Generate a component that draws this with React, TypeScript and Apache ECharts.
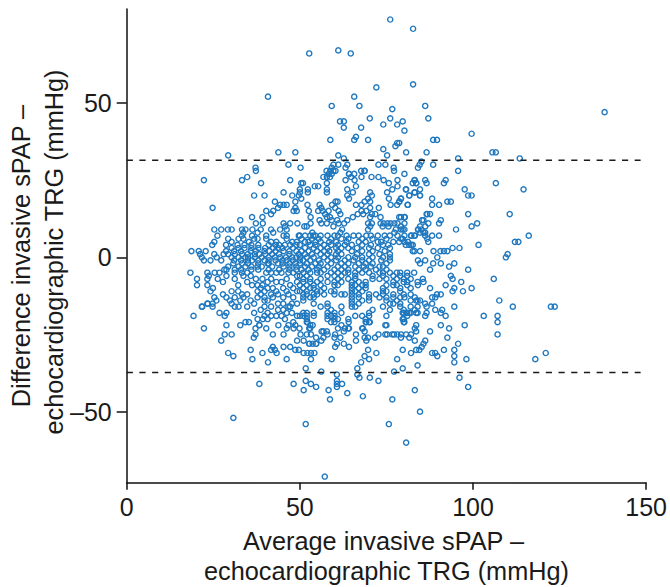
import React, { useEffect, useRef } from "react";
import * as echarts from "echarts";

const xTicks = [0, 50, 100, 150];
const yTicks = [-50, 0, 50];
const upperLimit = 31.4;
const lowerLimit = -37.3;
const limitEnd = 148.4;

const topPoints = [
[76.1,77],[82.7,74],[52.7,66],[61.1,67],[64.7,66],[72.1,55],[82.7,56],[40.8,52],[65.7,52],[59.2,49],[67.2,49],[86.2,49],[76.7,48],[138,47],[70.2,45],[76.1,45],[87.1,45],[61.6,44],[62.7,44],[79.7,44],[74.1,43],[78.1,43],[62.7,42],[67.7,42],[80.2,41],[99.6,40],[66.2,39],[65.7,38],[58.8,38],[69.7,38],[88.5,38],[89.6,38],[78.1,37],[78.7,37],[77.6,36],[74.1,35],[43.8,34],[48.7,34],[80.7,34],[86.6,34],[105.6,34],[106.6,34],[29.3,33],[61.1,33],[75.2,33],[62.7,32],[95.7,32],[113.5,32],
[46.7,30],[59.7,30],[61.1,30],[63.7,30],[72.7,30],[74.7,30],[85.1,31],[84.6,30],[88.5,30],[37.2,29],[50.2,29],[59.2,29],[63.2,29],[77.1,29],[84.1,29],[57.7,28],[58.8,28],[59.7,28],[67.7,28],[68.7,28],[95.7,28],[64.2,27],[65.7,27],[80.2,27],
[83.2,25],[82.6,24],[83.6,24],[86.6,24],[92.1,25],[91.6,24],[106.6,24],[97.6,22],[114.6,22],[80.7,22],[83.2,21],[81.6,20],[84.7,20],[98.6,20],[99.6,20],[88.2,19],[79.2,19],[92.6,18],[93.6,18],[78.7,18],[81.2,17],[88.2,17],[90.2,17],[98.6,14],[110.6,14],[86.6,14],[87.6,14],[79.2,13],[80.2,13],[85.7,12],[90.7,12],[101.2,11],[99.6,10],[87.1,11],[90.2,11],[80.2,11],[84.7,10],[79.2,9],[80.2,9],[84.1,9],[85.1,9],[95.1,9],[85.7,8],[86.2,7],[82.1,7],[83.2,7],[88.2,7],[90.2,7],[116.1,7],[80.2,7],[79.2,6],[80.2,5],[81.2,5],[87.1,5],[112.1,5],[113.1,5],[82.6,4],[101.6,4],[81.6,4],[94.1,3],[96.1,3],[90.6,2],[91.6,2],[92.6,2],[88.6,2],
];

const upperDensePoints = [
[57.8,26],[58.7,26],[59.2,27],[60.3,28],[58.3,27],[56.8,26],[57.8,24],[57.8,22],[57.8,21],[54.3,23],[55.3,23],[50.4,24],[50.9,24],[52.3,22],[52.3,21],[50,22],[50,21],[50.4,19],
[63.2,25],[64.2,27],[64.8,26],[65.8,25],[67.8,26],[66.2,23],[63.7,22],[65.3,21],[63.7,20],[64.2,19],[68.7,28],[70.7,26],[72.7,26],[74.2,25],[75.7,24],[77.2,28],[78.2,25],[78.2,23],[76.7,22],[75.2,21],[75.7,19],[76.2,17],[78.1,17],[78.7,18],[79.2,19],[80.6,22],[81.6,20],[83.1,25],[83.6,24],[83.1,21],[84.7,22],[84.7,20],[86.2,25],[81.1,17],
[70.3,21],[70.8,20],[69.7,19],[68.7,18],[70.3,18],[67.8,17],[69.2,15],[66.2,17],[67.8,15],[66.7,14],[68.3,14],[70.3,16],[70.8,14],[71.8,14],[72.8,16],[69.7,11],[70.3,13],[70.8,11],[70.3,10],[69.7,9],[69.2,7],
[52.2,17],[52.6,15],[53.1,13],[51.3,10],[53.1,11],[52,10],[53.6,8],[53.9,7],[55.7,17],[56.2,16],[55.3,15],[56.6,15],[57.3,14],[58.3,15],[57.8,13],[58.7,13],[59.3,17],[60.3,18],[60.9,18],[60.2,16],[61.2,15],[61.7,14],[59.2,12],[59.7,10],[60.8,12],[61.2,11],[55.7,12],[56.2,11],[57.8,11],[62.2,9],[61.7,8],[62.8,11],[63.7,12],[65.3,13],
[73.3,13],[73.3,11],[74.2,11],[75.3,11],[76.2,11],[77.3,11],[78.2,11],[73.9,10],[75.6,10],[78.7,13],[80.3,13],[79.2,10],[79.7,9],[77.7,9],[77.3,8],[78.2,7],[78.7,5],[79.7,6],[80.6,4],[82.2,7],[83.1,7],[82.2,4],[83.1,2],[84.2,9],[85.3,12],[86.2,10],[86.8,14],[86.2,8],[86.8,6],[84.7,8],
[22.3,25],[33.3,25],[34.8,26],[38.8,24],[47.2,25],[37.3,28],[36.8,20],[39.8,20],[45.3,21],[47.8,20],[49.7,20],[42.8,18],[48.7,18],[24.8,16],[32.8,12],[36.2,13],[39.2,13],[40.3,15],[41.7,14],[42.3,15],[43.7,16],[45.3,17],[46.2,17],[44.3,17],[48.2,15],[49.1,15],[48.7,16],
[37.3,11],[39.3,11],[36.3,9],[37.8,8],[45.3,11],[47.2,11],[45.7,10],[46.2,9],[49.3,11],[25.3,9],[27.3,9],[29.2,9],[30.3,9],[26.2,7],[25.3,5],[24.7,4],[18.7,2],[20.8,2],[22.8,2],[21.2,1],[21.7,0],[22.3,-1],[25.3,1],[24.2,-1],[27.3,-1],
[33.3,9],[34.3,9],[33.7,8],[33.3,7],[32.3,6],[33.7,6],[35.3,5],[36.2,7],[36.8,6],[37.8,6],[38.7,9],[40.3,7],[41.7,9],[42.3,8],[44.3,9],[40.3,6],[41.7,5],[43.2,5],[45.3,7],[46.2,7],[46.2,6],[47.8,5],[49.1,5],[49.7,7],[47.2,4],[45.7,4],[45.3,2],[43.7,3],[42.3,3],[41.2,2],[39.8,2],[38.3,1],[37.3,2],[35.8,2],[34.3,0],[33.3,1],[32.3,3],[30.3,5],[29.3,6],[28.7,4],[30.3,3],[28.7,2],[29.3,1],[30.3,0],[31.2,1],[32.3,0],[30.8,-2],[29.3,-3],[28.2,-4],[31.2,-4],[32.3,-3],[33.3,-2],[34.3,-3],[36.2,-1],[37.8,-3],[39.8,-1],[40.7,-2],[42.8,0],[44.3,0],[43.7,-2],[45.3,-3],[46.2,-1],[47.8,0],[48.7,-2],[49.7,1],
];

const centreRowsY = [7, 6, 5, 4, 3, 2, 1, 0, -1, -2, -3, -4];
const centreRowsX = [
[50,51.5,53,54.5,56,58,60,61,63.5,65.5,67,70.5,72.5,74.5,76],
[50.5,53.5,55.5,59,62,64,68,71,75],
[51.5,52.5,54.5,56,58.5,60.5,63.5,67,69,72.5,73.5,77],
[50,53,54.5,57,59,61,63,65,68,70.5,74,75.5],
[51.5,54,56,58,60.5,62,64,66.5,70,72.5,76],
[50.5,52.5,55,57,58.5,61,65,68,71,74.5],
[51.5,53.5,56,58,60.5,62,66.5,70,73,76],
[50,52,54,57,59,61,64,66,68,71,74,76],
[51,53,55.5,58,60.5,63,65.5,68,70,73.5,76],
[50,52,54.5,56,59,62,64,67,69,71,75],
[51.5,53.5,55.5,58,61,63,66,68.5,70.5,73,74],
[50.5,52.5,55,57,60,62,64,67,69,72,75],
];
const leftRowsY = [4, 3, 2, 1, 0, -1, -2, -3, -4];
const leftRowsX = [
[32,34,36,38,41,43,44,49],
[34,36,38,40,45,48],
[31,33,43,47,49],
[28,35,37,40,42,44,47],
[26,35,37,39,41,46,49],
[31,33,35,38,41,43,45,48,50],
[35,38,41,45,47],
[36,39,42,47,49],
[33,36,38,41,44,47,49],
];

const lowerLeftPoints = [
[18.4,-5],[20.3,-7],[20.3,-9],[23.3,-5],[23.7,-6],[23.3,-7],[23.3,-9],[24.9,-10],[24.2,-11],[25.3,-13],[25.9,-14],[23.3,-15],[21.7,-16],[24.8,-16],[27.8,-12],[28.8,-13],[29.8,-14],[30.3,-15],[30.3,-11],[31.2,-16],[32.3,-16],[34.8,-16],[32.8,-14],[35.8,-14],[36.8,-18],[37.8,-20],[38.3,-22],[40.3,-23],
[25.4,-5],[26.8,-5],[26.3,-7],[27.8,-8],[28.8,-4],[28.8,-6],[31.2,-5],[31.2,-7],[32.2,-9],[32.2,-11],[33.3,-12],[31.2,-13],[33.7,-13],[34.8,-12],[36.8,-15],[33.3,-5],[34.8,-5],[33.7,-6],[35.8,-6],[34.8,-8],[36.2,-9],[37.3,-7],[37.8,-9],[38.7,-10],[37.8,-11],[38.7,-12],[39.8,-11],[37.8,-13],[39.8,-13],[40.7,-14],[42.2,-13],[43.7,-12],[45.2,-13],[46.7,-12],[48.1,-13],[49.2,-11],[47.7,-15],[46.7,-16],[45.2,-15],[43.7,-15],[41.7,-16],[39.8,-16],[38.7,-17],[40.7,-18],[39.8,-19],[41.7,-19],[43.2,-19],[44.7,-19],[46.2,-18],[47.7,-18],[49.2,-19],[45.7,-20],[48.1,-21],[46.7,-22],[39.3,-20],[40.7,-20],
[40.3,-5],[41.7,-5],[43.2,-5],[44.7,-5],[46.7,-5],[48.1,-5],[49.2,-6],[46.2,-7],[44.7,-8],[43.2,-8],[41.7,-7],[40.7,-8],[39.2,-7],[39.2,-9],[40.7,-10],[42.2,-10],[43.2,-11],[45.2,-10],[47.2,-9],[48.1,-10],[46.2,-11],[49.2,-8],[41.7,-12],[39.8,-14],[43.7,-17],[45.2,-17],[47.2,-16],[49.2,-15],
];

const midRowsY = [-5,-6,-7,-8,-9,-10,-11,-12,-13,-14,-15,-16,-17,-18,-19,-20,-21,-22,-23];
const midRowsX = [
[51,53,55,56,59,61,63,64,66,68,70,73,74,76,78,79,81,83],
[50,52,58,60,62,66,71,74,77,79,81],
[51,53,56,61,64,66,71,73,75,78,80,82,85.5],
[51,53,55,58,60,62,65,67,69,77,80,81,84],
[50,52,54,56,60,61,65,66,68,69,75,77,78,81],
[51,53,54,57,65,67,69,74,79,82],
[50,52,55,56,59,60,65,66,68,74,75,79],
[51,52,54,55,57,60,62,63,65,67,70,72,74,77,80,82],
[51,53,54,65,67,70,73,75,77,79],
[51,65,68,70,75,78,82,84],
[54,58,65,67,76,77,79],
[56,58,62,65,66,74,79,82,84],
[59,71,76,80],
[51,52,54,58,60,62,70,80,81,82,84],
[50,51,52,54,58,59,60,66,68,70,75,81],
[52,58,60,61,64,69,80],
[52,59,60,69,70,80],
[75,53,62],
[53,61,63,64,68],
];

const rightLowerPoints = [
[110,1],[109.5,0],[82.6,2],[84.7,2],[89.7,0],[84.1,-1],[86.2,-1],[84.7,-2],[88.5,-2],[90.7,-2],[94.6,-2],[93.1,-3],[87.6,-4],[98.6,-4],[93.6,-6],[94.1,-7],[106,-7],[96.6,-8],[92.1,-9],[85.7,-8],[84.1,-9],[87.6,-10],[94.6,-10],[99.6,-10],[94.1,-11],[97.1,-11],[90.7,-12],[89.6,-12],[88.2,-13],[89.1,-13],[107.6,-14],[80.2,-13],[83.2,-13],[83.6,-14],[84.7,-14],[88.2,-15],[86.2,-15],[94.6,-16],[111.5,-16],[122.5,-16],[123.6,-16],[86.6,-16],[89.1,-17],[91.1,-17],[90.7,-18],[86.6,-18],[83.2,-17],[80.7,-18],[81.6,-18],[83.6,-18],[79.7,-18],[92.1,-19],[86.2,-19],[103.1,-19],[107.1,-19],[79.7,-20],[107.1,-21],[80.2,-21],[90.7,-22],[97.6,-22],[83.6,-22],[93.1,-23],[83.2,-23],[87.6,-24],[83.6,-24],[79.2,-25],[82.1,-25],[107.1,-25],[92.6,-26],[81.6,-26],[86.2,-27],[83.2,-27],[85.7,-28],[95.7,-28],[85.2,-29],[79.7,-30],[83.6,-30],[84.5,-30],[91.6,-30],[94.6,-30],[82.1,-31],[88.2,-31],[89.1,-31],[121,-31],[89.7,-32],[94.6,-32],[98.1,-33],[118,-33],[94.6,-34],[79.7,-36],[96.1,-39],[98.6,-42],[83.2,-43],[84.7,-50],[80.7,-60],
];

const lowerPoints = [
[57.2,-71],[30.8,-52],[51.7,-54],[75.7,-54],[58.7,-46],[68.2,-45],[76.7,-46],[63.7,-44],[51.1,-43],[58.3,-43],[60.7,-42],[62.2,-41],[60.7,-41],[60.7,-40],[60.7,-38],[54.7,-42],[53.2,-41],[51.7,-40],[48.2,-41],[38.3,-41],[67.2,-39],[70.2,-39],[72.7,-40],[66.6,-38],[66.6,-36],[56.2,-37],[77.2,-37],[51.7,-36],[67.7,-34],[68.7,-32],[69.7,-30],[72.1,-31],[59.2,-33],[78.1,-33],[40.8,-34],[36.3,-33],[46.2,-33],[53.2,-33],[30.8,-32],[29.3,-31],[39.2,-31],[43.3,-31],[51.1,-31],[52.2,-31],[53.2,-31],[54.2,-31],[35.8,-30],[42.2,-29],[41.7,-30],[42.8,-30],[45.3,-29],[47.2,-29],[48.7,-30],[49.7,-30],[27.3,-27],[28.3,-25],[30.3,-25],[22.3,-23],[19.3,-19],[21.8,-16],[24.8,-15],[23.4,-15],[28.8,-22],[32.8,-22],[28.3,-19],[26.8,-18],[28.8,-18],[34.3,-21],[35.3,-21],[36.7,-26],[37.2,-25],[37.2,-23],[38.3,-22],[42.2,-25],[43.8,-22],[45.3,-25],[46.2,-23],[48.2,-23],[48.7,-22],[50.2,-25],[49.2,-27],[51.1,-27],[52.7,-28],[53.7,-28],[54.7,-28],[52.7,-23],[53.2,-25],[52.2,-21],[53.7,-22],[56.2,-27],[56.8,-26],[56.8,-24],[57.8,-24],[60.2,-25],[61.7,-26],[62.7,-24],[64.2,-23],[64.1,-21],[60.7,-28],[60.2,-29],[62.7,-28],[64.2,-29],[66.2,-27],[68.7,-26],[69.7,-26],[69.2,-27],[71.7,-26],[68.2,-23],[69.2,-21],[70.2,-21],[74.7,-22],[75.2,-25],[77.2,-25],[78.1,-25],
[52.8,-28],[72.7,-25],[74.7,-25],[76.7,-25],[79.2,-26],[80.7,-25],[66.2,-25],[68.7,-24],[58,-25],[60,-26],[52,-25],[49.9,-23],[54.7,-26],[56.3,-24],
[54.7,-28],[70,-33],[84,-35],
];

const allPoints: number[][] = [
  ...topPoints,
  ...upperDensePoints,
  ...lowerLeftPoints,
  ...rightLowerPoints,
  ...lowerPoints,
];
centreRowsY.forEach((y, i) => centreRowsX[i].forEach((x) => allPoints.push([x, y])));
leftRowsY.forEach((y, i) => leftRowsX[i].forEach((x) => allPoints.push([x, y])));
midRowsY.forEach((y, i) => midRowsX[i].forEach((x) => allPoints.push([x, y])));

const FONT = '"Liberation Sans", Arial, sans-serif';
const INK = "#1a1a1a";
const TITLE_FONT = `25.3px ${FONT}`;

export default function App() {
  const ref = useRef<HTMLDivElement>(null);
  useEffect(() => {
    const chart = echarts.init(ref.current!, undefined, { renderer: "svg", width: 670, height: 587 });
    const axisLine = { show: true, onZero: false, lineStyle: { color: "#111", width: 1.5 } };
    const label = { fontFamily: FONT, fontSize: 25, color: INK };
    chart.setOption({
      animation: false,
      backgroundColor: "#fff",
      grid: { left: 126.7, top: 9, width: 520.3, height: 473.7 },
      xAxis: {
        type: "value", min: 0, max: 150, interval: 50,
        splitLine: { show: false }, axisLine,
        axisTick: { show: true, length: 7, lineStyle: { color: "#111", width: 1.5 } },
        axisLabel: { ...label, margin: 12, customValues: xTicks, showMaxLabel: true, hideOverlap: false },
      },
      yAxis: {
        type: "value", min: -73, max: 80.4,
        splitLine: { show: false }, axisLine,
        axisTick: { show: true, length: 10, customValues: yTicks, lineStyle: { color: "#111", width: 1.5 } },
        axisLabel: {
          ...label, margin: 15, customValues: yTicks,
          formatter: (v: number) => (v < 0 ? "\u2013" + Math.abs(v) : String(v)),
        },
      },
      series: [
        {
          type: "scatter", data: allPoints, symbol: "circle", symbolSize: 5.2,
          itemStyle: { color: "transparent", borderColor: "#1f78bf", borderWidth: 1.4, opacity: 1 },
          emphasis: { disabled: true }, silent: true, z: 2,
        },
        {
          type: "line", data: [[0, upperLimit], [limitEnd, upperLimit]], symbol: "none", silent: true, z: 3,
          lineStyle: { color: INK, width: 1.5, type: [6.2, 6.5] },
        },
        {
          type: "line", data: [[0, lowerLimit], [limitEnd, lowerLimit]], symbol: "none", silent: true, z: 3,
          lineStyle: { color: INK, width: 1.5, type: [6.2, 6.5] },
        },
      ],
      graphic: [
        { type: "text", x: 383.5, y: 540.5, style: { text: "Average invasive sPAP \u2013", font: TITLE_FONT, fill: INK, align: "center", verticalAlign: "middle" } },
        { type: "text", x: 386.5, y: 571, style: { text: "echocardiographic TRG (mmHg)", font: TITLE_FONT, fill: INK, align: "center", verticalAlign: "middle" } },
        { type: "text", x: 21, y: 256, rotation: Math.PI / 2, style: { text: "Difference invasive sPAP \u2013", font: TITLE_FONT, fill: INK, align: "center", verticalAlign: "middle" } },
        { type: "text", x: 54, y: 252, rotation: Math.PI / 2, style: { text: "echocardiographic TRG (mmHg)", font: TITLE_FONT, fill: INK, align: "center", verticalAlign: "middle" } },
      ],
    });
    return () => chart.dispose();
  }, []);
  return <div ref={ref} style={{ position: "fixed", left: 0, top: 0, width: 670, height: 587 }} />;
}
